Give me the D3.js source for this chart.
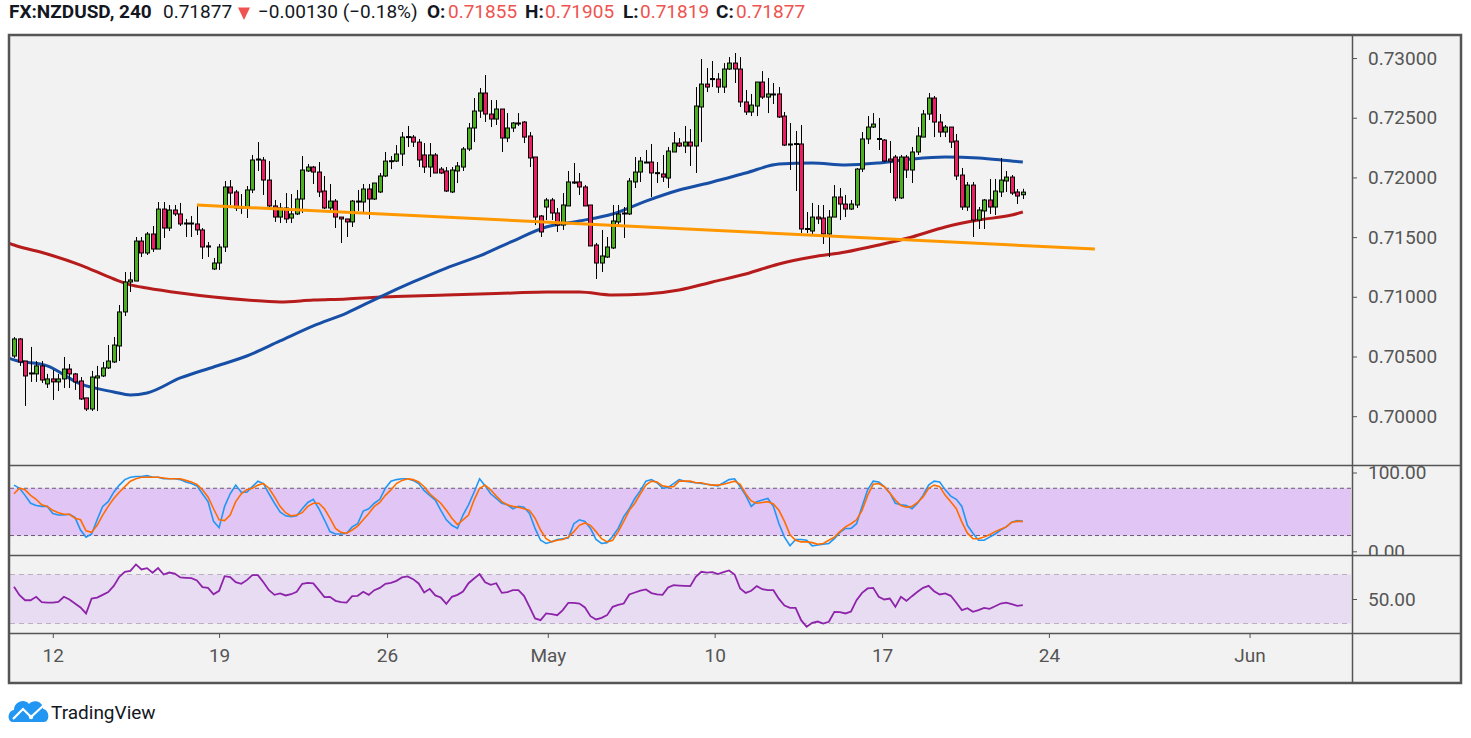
<!DOCTYPE html>
<html>
<head>
<meta charset="utf-8">
<script src="https://cdn.jsdelivr.net/npm/d3@7"></script>
<style>
  body { margin: 0; background: #fff; }
  svg { display: block; font-family: Roboto, "Noto Sans", sans-serif; }
</style>
</head>
<body>
<svg id="chart" width="1471" height="738"></svg>
<script>
// NZDUSD 4h bars (bar 0 = first visible candle)
const barOpen = [.70504,.70647,.70462,.70354,.70354,.70421,.70270,.70312,.70287,.70312,
.70395,.70354,.70295,.70153,.70060,.70320,.70337,.70404,.70454,.70588,
.70873,.71124,.71132,.71467,.71367,.71526,.71400,.71735,.71576,.71727,
.71694,.71618,.71610,.71610,.71560,.71426,.71233,.71283,.71417,.71920,
.71878,.71744,.71744,.71895,.72146,.72146,.71978,.71761,.71668,.71744,
.71660,.71694,.71819,.72054,.72087,.72045,.71886,.71744,.71802,.71668,
.71652,.71627,.71794,.71794,.71903,.71819,.71878,.72012,.72137,.72137,
.72196,.72338,.72338,.72296,.72188,.72087,.72188,.72070,.72054,.71878,
.72054,.72087,.72238,.72414,.72556,.72707,.72531,.72489,.72573,.72330,
.72414,.72456,.72464,.72347,.72171,.71677,.71752,.71811,.71702,.71601,
.71761,.71962,.71962,.71920,.71769,.71434,.71283,.71333,.71409,.71627,
.71702,.71694,.71962,.72045,.72129,.72129,.72037,.72029,.71995,.72213,
.72288,.72263,.72296,.72263,.72590,.72782,.72824,.72824,.72757,.72908,
.72958,.72908,.72632,.72548,.72598,.72799,.72673,.72699,.72699,.72514,
.72280,.72280,.72280,.71568,.71551,.71668,.71660,.71526,.71668,.71836,
.71777,.71735,.71769,.72070,.72322,.72422,.72322,.72313,.72154,.72171,
.71828,.72171,.72062,.72213,.72338,.72531,.72665,.72464,.72380,.72422,
.72305,.72020,.71752,.71936,.71643,.71719,.71811,.71752,.71878,.71970,
.72003,.71878,.71855];
const barHigh = [.70663,.70655,.70462,.70580,.70462,.70462,.70354,.70387,.70354,.70496,
.70437,.70362,.70328,.70153,.70379,.70421,.70454,.70596,.70663,.70931,
.71208,.71208,.71501,.71501,.71543,.71593,.71794,.71794,.71769,.71769,
.71786,.71652,.71677,.71769,.71576,.71459,.71325,.71442,.71970,.71978,
.71895,.71861,.71928,.72188,.72296,.72171,.72137,.71811,.71786,.71869,
.71861,.71895,.72179,.72112,.72096,.72129,.72012,.71945,.71819,.71668,
.71652,.71811,.71895,.71945,.71945,.71953,.72037,.72213,.72179,.72271,
.72380,.72431,.72355,.72322,.72288,.72288,.72204,.72087,.72087,.72087,
.72129,.72255,.72456,.72665,.72749,.72858,.72648,.72648,.72573,.72539,
.72464,.72539,.72472,.72380,.72171,.71685,.71828,.71828,.71744,.71869,
.72054,.72121,.72037,.71936,.71769,.71451,.71560,.71501,.71769,.71769,
.71752,.71995,.72171,.72171,.72230,.72280,.72129,.72188,.72255,.72380,
.72330,.72431,.72405,.72757,.72992,.72916,.72975,.72874,.72958,.73008,
.73042,.73008,.72732,.72699,.72799,.72891,.72833,.72791,.72757,.72548,
.72456,.72389,.72439,.71710,.71786,.71769,.71769,.71727,.71936,.71911,
.71853,.71811,.72079,.72380,.72514,.72539,.72498,.72322,.72305,.72188,
.72188,.72188,.72255,.72422,.72565,.72707,.72682,.72531,.72439,.72422,
.72364,.72079,.71962,.71962,.71752,.71819,.71987,.71987,.72163,.72054,
.72020,.71903,.71905];
const barLow = [.70488,.70421,.70086,.70287,.70287,.70278,.70236,.70136,.70211,.70236,
.70236,.70220,.70136,.70043,.70043,.70043,.70328,.70395,.70446,.70462,
.70839,.71040,.71132,.71333,.71350,.71375,.71400,.71493,.71551,.71677,
.71593,.71501,.71501,.71518,.71317,.71333,.71225,.71225,.71375,.71769,
.71719,.71694,.71660,.71869,.72054,.71853,.71752,.71627,.71618,.71618,
.71618,.71685,.71702,.72045,.71945,.71836,.71735,.71719,.71576,.71451,
.71501,.71585,.71719,.71694,.71652,.71811,.71869,.72003,.72070,.72129,
.72096,.72255,.72255,.72087,.72037,.72003,.72037,.72029,.71878,.71869,
.71953,.72054,.72221,.72296,.72498,.72464,.72422,.72439,.72213,.72296,
.72380,.72431,.72288,.72087,.71601,.71501,.71643,.71643,.71543,.71560,
.71761,.71945,.71853,.71761,.71426,.71149,.71208,.71325,.71400,.71601,
.71493,.71685,.71911,.71962,.72121,.71836,.71953,.71962,.71911,.72213,
.72255,.72204,.72096,.72037,.72296,.72715,.72757,.72707,.72707,.72900,
.72791,.72590,.72523,.72514,.72514,.72657,.72539,.72615,.72498,.72263,
.72062,.71886,.71534,.71534,.71526,.71610,.71442,.71333,.71668,.71643,
.71668,.71727,.71744,.72045,.72280,.72414,.72230,.72129,.72037,.71802,
.71819,.71995,.71953,.72188,.72338,.72481,.72338,.72338,.72338,.72246,
.71978,.71727,.71719,.71501,.71568,.71568,.71694,.71685,.71836,.71878,
.71853,.71777,.71819];
const barClose = [.70647,.70454,.70337,.70362,.70421,.70303,.70312,.70287,.70312,.70395,
.70354,.70287,.70144,.70060,.70328,.70337,.70404,.70462,.70596,.70873,
.71124,.71141,.71467,.71367,.71526,.71400,.71735,.71576,.71727,.71694,
.71610,.71610,.71618,.71560,.71417,.71417,.71283,.71417,.71920,.71869,
.71744,.71752,.71895,.72146,.72154,.71978,.71761,.71668,.71744,.71652,
.71694,.71819,.72062,.72087,.72045,.71878,.71744,.71802,.71668,.71652,
.71627,.71802,.71802,.71903,.71819,.71953,.72012,.72137,.72140,.72196,
.72338,.72342,.72296,.72146,.72087,.72188,.72037,.72037,.71886,.72062,
.72096,.72238,.72414,.72556,.72707,.72531,.72489,.72573,.72330,.72414,
.72456,.72452,.72338,.72163,.71668,.71543,.71811,.71702,.71601,.71769,
.71962,.71953,.71920,.71761,.71426,.71283,.71342,.71417,.71635,.71694,
.71698,.71970,.72045,.72137,.72125,.72037,.72040,.72003,.72221,.72288,
.72263,.72296,.72263,.72598,.72782,.72757,.72828,.72757,.72908,.72958,
.72908,.72632,.72548,.72606,.72799,.72673,.72699,.72695,.72506,.72271,
.72276,.72284,.71568,.71572,.71668,.71652,.71526,.71668,.71836,.71777,
.71735,.71777,.72070,.72322,.72422,.72447,.72326,.72137,.72137,.71828,
.72171,.72062,.72213,.72347,.72531,.72665,.72464,.72380,.72422,.72296,
.72012,.71752,.71936,.71643,.71727,.71811,.71752,.71886,.71978,.72003,
.71869,.71844,.71877];

// moving averages, read at every 6th bar
const maBars   = [-1,0,6,12,18,21,24,30,36,42,48,54,60,66,72,78,84,90,96,102,108,114,120,126,132,138,144,150,156,162,168,174,180,182];
const maBlue   = [.70488,.70471,.70421,.70270,.70203,.70178,.70194,.70320,.70412,.70504,.70630,.70756,.70864,.70998,.71124,.71241,.71342,.71467,.71585,.71635,.71694,.71802,.71895,.71962,.72037,.72112,.72121,.72104,.72121,.72154,.72171,.72163,.72137,.72129];
const maRed    = [.71451,.71434,.71359,.71266,.71149,.71100,.71074,.71032,.70998,.70973,.70957,.70973,.70982,.70998,.71007,.71015,.71023,.71032,.71040,.71040,.71015,.71023,.71057,.71124,.71191,.71275,.71333,.71375,.71434,.71501,.71585,.71643,.71685,.71710];

// drawn trend line
const trendBars   = [33, 195];
const trendPrices = [.71769, .71400];

// stochastic %K / %D and RSI, one value per bar
const stochK = [84,80,71,61,58,57,57,48,46,46,47,43,27,18,22,40,57,63,75,84,
91,94,95,95,96,94,94,92,92,92,91,88,86,83,73,63,38,30,57,73,
84,75,75,82,89,86,73,61,50,45,44,45,54,62,66,54,40,25,22,22,
23,31,35,51,54,61,66,80,89,91,92,92,90,86,77,71,65,52,40,33,
29,46,59,75,92,83,73,67,61,59,54,57,56,48,29,14,10,12,15,16,
17,35,40,38,29,15,10,11,19,29,44,54,67,77,89,91,87,80,81,86,
91,89,88,87,86,85,84,83,87,91,92,82,71,57,63,65,67,57,35,18,
7,15,15,14,7,8,9,10,16,24,29,29,35,57,78,89,88,82,74,61,
59,58,54,61,71,84,89,88,78,70,66,57,33,23,14,14,18,22,27,31,
37,39,38];
const stochD = [73,80,78,71,66,59,57,52,49,47,47,42,40,26,24,33,46,57,67,75,
82,89,92,94,94,94,94,93,92,92,92,90,88,85,78,69,54,40,39,46,
63,73,78,80,84,86,80,69,57,49,45,46,49,57,61,61,54,42,29,24,
23,27,32,40,48,57,62,71,78,86,90,92,91,88,82,73,67,61,52,42,
34,40,46,65,80,84,78,70,63,59,57,56,54,52,42,27,16,12,14,15,
18,25,33,36,33,25,16,12,14,25,38,52,61,73,84,89,88,83,82,82,
89,89,89,87,87,85,84,84,85,87,89,85,73,64,61,62,63,60,52,38,
21,14,12,12,11,9,10,14,18,25,31,35,40,52,71,85,86,82,74,65,
58,56,57,62,69,80,84,82,71,63,54,37,23,16,16,18,21,25,28,31,
37,38,38];
const rsiVals = [59.9,53.1,49.0,49.0,51.8,47.4,47.1,47.1,47.7,51.8,
49.6,46.3,43.1,38.2,50.4,51.2,53.4,55.6,60.7,68.1,
72.2,73.0,78.2,74.1,75.2,71.4,75.2,70.0,71.6,70.8,
67.6,67.3,67.0,65.1,59.7,59.1,53.9,56.7,68.6,67.8,
63.7,62.4,65.4,69.5,69.5,63.7,57.2,53.4,54.5,52.9,
53.9,55.9,62.4,63.2,62.7,57.2,51.5,51.8,48.5,47.4,
47.1,52.3,52.6,55.9,53.4,57.2,59.1,62.4,63.2,64.8,
67.6,68.4,66.2,62.7,55.3,58.3,52.9,51.2,46.1,51.8,
53.4,56.1,62.9,66.7,70.3,63.7,61.6,62.9,55.0,55.6,
57.2,57.2,52.6,43.6,34.1,32.7,38.2,37.6,36.8,40.9,
46.9,46.9,46.3,43.1,36.0,33.3,34.6,36.8,43.6,45.2,
46.3,53.7,55.3,56.9,57.8,54.8,53.7,53.4,59.4,61.3,
61.0,60.7,60.5,68.1,72.2,71.6,71.9,70.3,71.9,73.3,
70.0,58.6,55.0,56.7,60.5,58.0,57.2,57.2,50.1,44.7,
42.8,42.8,32.7,27.3,30.5,31.6,30.0,31.4,39.5,39.3,
38.2,39.8,49.0,55.0,58.6,59.1,51.8,49.6,50.4,43.6,
51.8,48.5,52.3,55.9,59.1,60.7,56.4,53.7,54.5,52.6,
46.9,40.9,42.5,39.5,40.9,42.8,42.0,44.1,46.3,47.1,
45.8,44.4,45.0];

// axes
const priceTicks = [0.70, 0.705, 0.71, 0.715, 0.72, 0.725, 0.73];
const timeTickBars = [7, 37, 67.3, 96.3, 126.4, 156.6, 186.7, 222.9];
const timeTickLabels = ['12', '19', '26', 'May', '10', '17', '24', 'Jun'];

const svg = d3.select('#chart');

const plotL = 10, plotR = 1351, axisX = 1352;
const frameL = 9, frameR = 1461;
const pane = {
  price: {top: 35, bottom: 465},
  stoch: {top: 465, bottom: 555},
  rsi: {top: 555, bottom: 633},
  time: {top: 633, bottom: 683}
};

const ink = '#131722', axisCol = '#555', red = '#EF5350';

const x = d3.scaleLinear().domain([-0.72, 241.2]).range([plotL, plotR]);
const yP = d3.scaleLinear().domain([0.69591, 0.73193]).range([pane.price.bottom, pane.price.top]);
const yS = d3.scaleLinear().domain([0, 100]).range([551.3, 472.5]);
const yR = d3.scaleLinear().domain([30, 70]).range([623.5, 574.5]);

svg.append('rect').attr('x', frameL).attr('y', pane.price.top)
  .attr('width', frameR - frameL).attr('height', pane.time.bottom - pane.price.top)
  .attr('fill', '#f2f2f2');

const defs = svg.append('defs');
Object.entries(pane).forEach(([k, p]) => {
  defs.append('clipPath').attr('id', 'clip-' + k).append('rect')
    .attr('x', plotL).attr('y', p.top).attr('width', plotR - plotL).attr('height', p.bottom - p.top);
  defs.append('clipPath').attr('id', 'aclip-' + k).append('rect')
    .attr('x', axisX).attr('y', p.top + 1).attr('width', frameR - axisX).attr('height', p.bottom - p.top - 1);
});

// ---- price pane
const gp = svg.append('g').attr('clip-path', 'url(#clip-price)');

const maLine = d3.line().x((d, i) => x(maBars[i])).y(d => yP(d)).curve(d3.curveMonotoneX);
gp.append('path').attr('d', maLine(maRed)).attr('fill', 'none')
  .attr('stroke', '#b71c1c').attr('stroke-width', 3);
gp.append('path').attr('d', maLine(maBlue)).attr('fill', 'none')
  .attr('stroke', '#184fa6').attr('stroke-width', 3);

const bars = d3.range(barOpen.length).map(i => ({
  i, o: barOpen[i], h: barHigh[i], l: barLow[i], c: barClose[i]
}));

const candle = gp.append('g').selectAll('g').data(bars).join('g');
candle.append('line')
  .attr('x1', d => Math.round(x(d.i)) + 0.5).attr('x2', d => Math.round(x(d.i)) + 0.5)
  .attr('y1', d => yP(d.h)).attr('y2', d => yP(d.l))
  .attr('stroke', '#000').attr('stroke-width', 1);
candle.append('rect')
  .attr('x', d => Math.round(x(d.i)) - 1.5)
  .attr('y', d => yP(Math.max(d.o, d.c)))
  .attr('width', 4)
  .attr('height', d => Math.max(1, Math.abs(yP(d.o) - yP(d.c))))
  .attr('fill', d => d.c >= d.o ? '#4caf1f' : '#e91e63')
  .attr('stroke', '#000').attr('stroke-width', 1);

gp.append('line')
  .attr('x1', x(trendBars[0])).attr('y1', yP(trendPrices[0]))
  .attr('x2', x(trendBars[1])).attr('y2', yP(trendPrices[1]))
  .attr('stroke', '#ff9800').attr('stroke-width', 3);

// ---- stochastic pane
const gs = svg.append('g').attr('clip-path', 'url(#clip-stoch)');
gs.append('rect').attr('x', plotL).attr('width', plotR - plotL)
  .attr('y', yS(80)).attr('height', yS(20) - yS(80)).attr('fill', '#e1c5f4');
[80, 20].forEach(v => gs.append('line')
  .attr('x1', plotL).attr('x2', plotR).attr('y1', yS(v)).attr('y2', yS(v))
  .attr('stroke', '#6a5a78').attr('stroke-dasharray', '4,3'));
const oscLine = ys => d3.line().x((d, i) => x(i)).y(d => ys(d));
gs.append('path').attr('d', oscLine(yS)(stochK)).attr('fill', 'none')
  .attr('stroke', '#2196f3').attr('stroke-width', 1.6);
gs.append('path').attr('d', oscLine(yS)(stochD)).attr('fill', 'none')
  .attr('stroke', '#ff6d00').attr('stroke-width', 1.6);

// ---- RSI pane
const gr = svg.append('g').attr('clip-path', 'url(#clip-rsi)');
gr.append('rect').attr('x', plotL).attr('width', plotR - plotL)
  .attr('y', yR(70)).attr('height', yR(30) - yR(70)).attr('fill', '#e8dcf3');
[70, 30].forEach(v => gr.append('line')
  .attr('x1', plotL).attr('x2', plotR).attr('y1', yR(v)).attr('y2', yR(v))
  .attr('stroke', '#b9b1c0').attr('stroke-dasharray', '5,4'));
gr.append('path').attr('d', oscLine(yR)(rsiVals)).attr('fill', 'none')
  .attr('stroke', '#8e24aa').attr('stroke-width', 1.8);

// ---- axes (outer group clips, inner group is shifted to the axis line)
function styleAxis(g) {
  g.select('.domain').remove();
  g.selectAll('.tick line').attr('stroke', axisCol);
  g.selectAll('.tick text').attr('fill', axisCol).attr('font-size', 19)
    .attr('font-family', 'Roboto, sans-serif');
}
function rightAxis(key, scale, ticks, fmt) {
  svg.append('g').attr('clip-path', `url(#aclip-${key})`)
    .append('g').attr('transform', `translate(${axisX},0)`)
    .call(d3.axisRight(scale).tickValues(ticks).tickFormat(d3.format(fmt)).tickSize(5).tickPadding(11))
    .call(styleAxis);
}
rightAxis('price', yP, priceTicks, '.5f');
rightAxis('stoch', yS, [0, 100], '.2f');
rightAxis('rsi', yR, [50], '.2f');

svg.append('g').attr('transform', `translate(0,${pane.time.top})`)
  .call(d3.axisBottom(x).tickValues(timeTickBars).tickFormat((d, i) => timeTickLabels[i]).tickSize(5).tickPadding(11))
  .call(styleAxis);

// ---- frame and pane separators
const sep = svg.append('g').attr('stroke', axisCol).attr('fill', 'none');
[pane.stoch.top, pane.rsi.top, pane.time.top].forEach(yv =>
  sep.append('line').attr('x1', frameL).attr('x2', frameR).attr('y1', yv + 0.5).attr('y2', yv + 0.5).attr('stroke-width', 1.5));
sep.append('line').attr('x1', axisX + 0.5).attr('x2', axisX + 0.5)
  .attr('y1', pane.price.top).attr('y2', pane.time.bottom).attr('stroke-width', 1.5);
sep.append('rect').attr('x', frameL).attr('y', pane.price.top)
  .attr('width', frameR - frameL).attr('height', pane.time.bottom - pane.price.top)
  .attr('stroke-width', 2.5);

// ---- header
const last = bars[bars.length - 1];
const f5 = d3.format('.5f');
const head = svg.append('g').attr('font-size', 19).attr('fill', ink);
const headParts = [
  {x: 9, t: 'FX:NZDUSD, 240', w: 700},
  {x: 163, t: f5(last.c)},
  {x: 258, t: '\u22120.00130 (\u22120.18%)'},
  {x: 427, t: 'O:', w: 700}, {x: 448, t: f5(last.o), c: red},
  {x: 525, t: 'H:', w: 700}, {x: 545, t: f5(last.h), c: red},
  {x: 623, t: 'L:', w: 700}, {x: 640, t: f5(last.l), c: red},
  {x: 716, t: 'C:', w: 700}, {x: 736, t: f5(last.c), c: red}
];
head.selectAll('text').data(headParts).join('text')
  .attr('x', d => d.x).attr('y', 18)
  .attr('font-weight', d => d.w || 400)
  .attr('fill', d => d.c || ink)
  .text(d => d.t);
head.append('path').attr('d', 'M238,7.5 L250,7.5 L244,20 Z').attr('fill', red);

// ---- TradingView mark
const logo = svg.append('g');
logo.append('path')
  .attr('d', 'M13,722 C7,722 7,711 14,710 C14,702 24,698 29,704 C33,699 43,701 43,709 C50,710 50,722 44,722 Z')
  .attr('fill', '#2196f3');
logo.append('polyline').attr('points', '13,719 23,709 31,717 44,705')
  .attr('fill', 'none').attr('stroke', '#fff').attr('stroke-width', 2.2);
logo.append('circle').attr('cx', 31).attr('cy', 717).attr('r', 2.2).attr('fill', '#fff');
logo.append('text').attr('x', 51).attr('y', 719).attr('font-size', 19).attr('fill', ink)
  .text('TradingView');
</script>
</body>
</html>
